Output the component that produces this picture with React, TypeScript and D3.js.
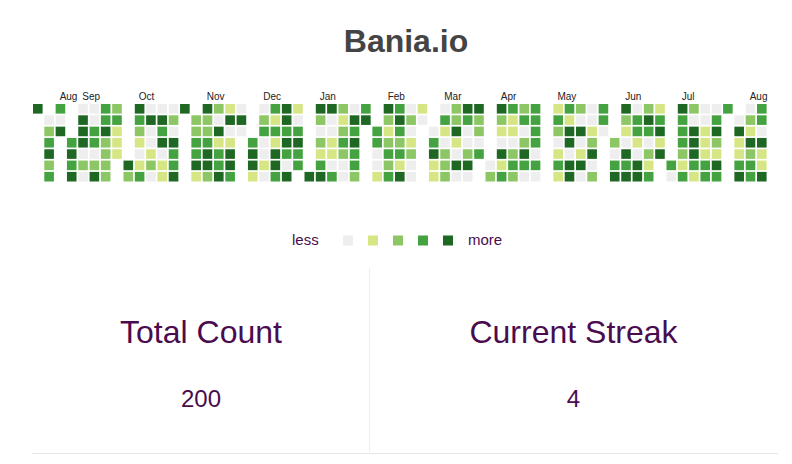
import { useRef, useEffect } from 'react'
import * as d3 from 'd3'

const START_DATE = '2016-08-22'

// activity level per day (0 = none … 4 = most), month by month from START_DATE
const AUG_2016 = [4, 0, 2, 3, 4, 2, 3, 3, 0, 4]
const SEP_2016 = [3, 4, 3, 4, 0, 4, 4, 4, 0, 2, 0, 0, 0, 3, 3, 0, 2, 4, 3, 3, 4, 2, 2, 2, 2, 2, 3, 1, 1, 1]
const OCT_2016 = [4, 2, 4, 3, 2, 1, 0, 1, 3, 0, 4, 0, 0, 1, 2, 0, 0, 4, 3, 4, 0, 1, 1, 0, 2, 0, 4, 3, 3, 4, 4]
const NOV_2016 = [2, 2, 3, 3, 4, 1, 4, 2, 2, 3, 4, 4, 2, 2, 0, 4, 1, 3, 3, 4, 1, 4, 0, 1, 4, 4, 3, 0, 4, 0]
const DEC_2016 = [3, 4, 4, 1, 0, 2, 3, 0, 0, 1, 0, 3, 1, 3, 1, 4, 4, 3, 4, 4, 3, 4, 3, 0, 4, 1, 0, 3, 4, 3, 3]
const JAN_2017 = [4, 4, 2, 0, 2, 1, 3, 4, 4, 0, 0, 1, 1, 0, 3, 2, 1, 2, 3, 2, 0, 0, 0, 4, 3, 4, 3, 3, 2, 3, 4]
const FEB_2017 = [3, 3, 0, 0, 1, 4, 2, 1, 2, 3, 2, 3, 3, 4, 3, 2, 3, 1, 4, 0, 2, 0, 1, 2, 0, 0, 1, 0]
const MAR_2017 = [0, 3, 4, 1, 1, 0, 3, 1, 0, 2, 2, 2, 2, 2, 4, 1, 0, 4, 0, 4, 3, 0, 0, 2, 4, 0, 4, 2, 2, 0, 3]
const APR_2017 = [0, 2, 4, 2, 1, 0, 4, 1, 3, 3, 1, 1, 0, 2, 3, 2, 2, 3, 0, 2, 4, 3, 0, 3, 3, 3, 3, 0, 3, 0]
const MAY_2017 = [1, 3, 2, 0, 1, 3, 1, 3, 1, 4, 4, 0, 4, 4, 2, 0, 4, 0, 1, 4, 0, 0, 0, 1, 2, 4, 0, 2, 3, 3, 0]
const JUN_2017 = [2, 0, 3, 4, 4, 2, 1, 0, 4, 3, 4, 0, 3, 3, 1, 0, 4, 4, 2, 4, 3, 0, 2, 1, 3, 1, 3, 4, 1, 4]
const JUL_2017 = [3, 0, 4, 3, 3, 3, 2, 1, 3, 2, 0, 4, 4, 4, 3, 1, 0, 0, 1, 1, 1, 3, 3, 0, 3, 4, 2, 1, 4, 3, 3]
const AUG_2017 = [0, 4, 1, 1, 3, 4, 0, 2, 1, 4, 2, 3, 3, 3, 3, 0, 4, 1, 1, 4]

const MONTHS = [AUG_2016, SEP_2016, OCT_2016, NOV_2016, DEC_2016, JAN_2017, FEB_2017,
  MAR_2017, APR_2017, MAY_2017, JUN_2017, JUL_2017, AUG_2017]

const LEVEL_COLORS = ['#eeeeee', '#d6e685', '#8cc665', '#44a340', '#1e6823']
const LEGEND_LEVELS = [0, 1, 2, 3, 4]

const STAT_LABELS = ['Total Count', 'Current Streak']
const STAT_VALUES = ['200', '4']

const FONT = '"Liberation Sans", Arial, Helvetica, sans-serif'
const TEXT = '#4a0c4e'

export default function App() {
  const svgRef = useRef(null)

  useEffect(() => {
    document.body.style.margin = '0'
    const el = svgRef.current
    if (!el) return
    const W = 792, H = 464
    const svg = d3.select(el).attr('width', W).attr('height', H)
    svg.selectAll('*').remove()

    const start = d3.timeParse('%Y-%m-%d')(START_DATE)
    const days = MONTHS.flat().map((level, i) => ({ date: d3.timeDay.offset(start, i), level, row: 0, col: 0, i }))

    // weeks run Monday..Sunday; every month opens a new column
    let col = 0
    days.forEach((d, i) => {
      const row = (d.date.getDay() + 6) % 7
      if (i > 0) {
        if (i === 1) col++ // first entry stands alone in the source
        if (row === 0) col++
        if (d.date.getDate() === 1) col++
      }
      d.row = row
      d.col = col
    })

    const maxCol = d3.max(days, d => d.col)
    const x = d3.scaleLinear().domain([0, maxCol]).range([33, 757])
    const y = d3.scaleLinear().domain([0, 6]).range([104, 171.9])
    const cell = 9.6

    svg.append('text')
      .attr('x', 406).attr('y', 52)
      .attr('text-anchor', 'middle')
      .attr('font-family', FONT).attr('font-size', 32).attr('font-weight', 'bold')
      .attr('fill', '#444')
      .text('Bania.io')

    svg.selectAll('.day')
      .data(days)
      .join('rect')
      .attr('class', 'day')
      .attr('x', d => x(d.col))
      .attr('y', d => y(d.row))
      .attr('width', cell).attr('height', cell)
      .attr('fill', d => LEVEL_COLORS[d.level])

    // month label sits over the first Monday column of each month
    const months = d3.groups(days.filter(d => d.i > 0), d => +d3.timeMonth(d.date))
    const labels = months.map(([key, ds]) => {
      const monday = ds.find(d => d.row === 0)
      return { date: new Date(key), col: monday ? monday.col : ds[0].col }
    })
    svg.selectAll('.month')
      .data(labels)
      .join('text')
      .attr('class', 'month')
      .attr('x', d => x(d.col) + 4)
      .attr('y', 100)
      .attr('font-family', FONT).attr('font-size', 10)
      .attr('fill', '#222')
      .text(d => d3.timeFormat('%b')(d.date))

    // legend
    const lx = d3.scaleLinear().domain([0, 4]).range([343, 443])
    svg.append('text')
      .attr('x', 292).attr('y', 245)
      .attr('font-family', FONT).attr('font-size', 15).attr('fill', TEXT)
      .text('less')
    svg.selectAll('.legend')
      .data(LEGEND_LEVELS)
      .join('rect')
      .attr('class', 'legend')
      .attr('x', d => lx(d)).attr('y', 235.5)
      .attr('width', 10).attr('height', 10)
      .attr('fill', d => LEVEL_COLORS[d])
    svg.append('text')
      .attr('x', 468).attr('y', 245)
      .attr('font-family', FONT).attr('font-size', 15).attr('fill', TEXT)
      .text('more')

    // stats
    const sx = [201, 573.5]
    svg.append('line')
      .attr('x1', 369.5).attr('x2', 369.5).attr('y1', 268).attr('y2', 452)
      .attr('stroke', '#eeeeee')
    svg.append('line')
      .attr('x1', 32).attr('x2', 778).attr('y1', 453.5).attr('y2', 453.5)
      .attr('stroke', '#e6e6e6')
    svg.selectAll('.stat-label')
      .data(STAT_LABELS)
      .join('text')
      .attr('class', 'stat-label')
      .attr('x', (d, i) => sx[i]).attr('y', 343)
      .attr('text-anchor', 'middle')
      .attr('font-family', FONT).attr('font-size', 32).attr('fill', TEXT)
      .text(d => d)
    svg.selectAll('.stat-value')
      .data(STAT_VALUES)
      .join('text')
      .attr('class', 'stat-value')
      .attr('x', (d, i) => sx[i]).attr('y', 407)
      .attr('text-anchor', 'middle')
      .attr('font-family', FONT).attr('font-size', 24).attr('fill', TEXT)
      .text(d => d)
  }, [])

  return <svg ref={svgRef} style={{ display: 'block' }} />
}
